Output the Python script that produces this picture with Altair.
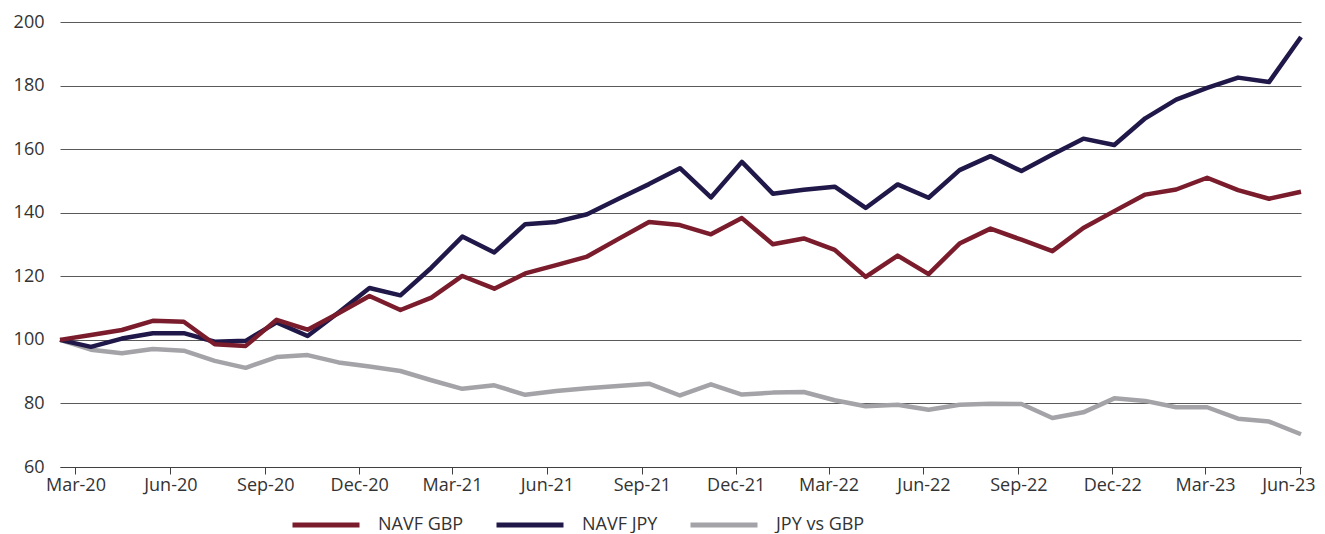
import altair as alt
import pandas as pd

# Series values (index 100 at start)
navf_gbp = [100, 101.5, 103.1, 106.0, 105.7, 98.6, 98.1, 106.3, 103.2, 108.4,
            113.8, 109.4, 113.3, 120.1, 116.1, 120.9, 123.5, 126.2, 131.7, 137.1,
            136.1, 133.2, 138.3, 130.1, 131.9, 128.3, 119.8, 126.5, 120.7, 130.3,
            135.0, 131.5, 127.9, 135.2, 140.5, 145.7, 147.3, 151.0, 147.1, 144.4,
            146.6]
navf_jpy = [100, 97.8, 100.4, 102.1, 102.1, 99.4, 99.7, 105.5, 101.2, 108.6,
            116.3, 114.0, 122.7, 132.5, 127.5, 136.4, 137.1, 139.5, 144.3, 149.0,
            154.0, 144.8, 156.0, 146.0, 147.2, 148.2, 141.5, 148.9, 144.7, 153.4,
            157.8, 153.1, 158.3, 163.3, 161.3, 169.7, 175.6, 179.3, 182.5, 181.1,
            195.3]
jpy_vs_gbp = [100, 96.9, 95.8, 97.1, 96.6, 93.4, 91.2, 94.6, 95.2, 92.9,
              91.6, 90.2, 87.3, 84.6, 85.7, 82.7, 83.9, 84.8, 85.5, 86.2,
              82.5, 86.0, 82.8, 83.4, 83.6, 81.0, 79.1, 79.6, 78.0, 79.6,
              79.9, 79.8, 75.4, 77.2, 81.6, 80.8, 78.8, 78.8, 75.2, 74.3,
              70.3]

series_names = ["NAVF GBP", "NAVF JPY", "JPY vs GBP"]
series_colors = ["#7a1c2c", "#1f1848", "#a4a4a8"]

# Observation dates (41 roughly monthly points)
dates = pd.date_range("2020-02-15", "2023-06-02", periods=41).strftime("%Y-%m-%d").tolist()

# Quarterly tick labels Mar-20 .. Jun-23
tick_months = [(2020, 3), (2020, 6), (2020, 9), (2020, 12),
               (2021, 3), (2021, 6), (2021, 9), (2021, 12),
               (2022, 3), (2022, 6), (2022, 9), (2022, 12),
               (2023, 3), (2023, 6)]

frames = []
for name, vals in zip(series_names, [navf_gbp, navf_jpy, jpy_vs_gbp]):
    frames.append(pd.DataFrame({"date": dates, "value": vals, "series": name}))
df = pd.concat(frames, ignore_index=True)

FONT = "Open Sans"
TEXT = "#333333"

x_enc = alt.X(
    "date:T",
    title=None,
    scale=alt.Scale(domain=[dates[0], dates[-1]], nice=False),
    axis=alt.Axis(
        values=[alt.DateTime(year=y, month=m, date=1) for y, m in tick_months],
        format="%b-%y",
        grid=False,
        domainColor="#404040",
        tickColor="#404040",
        tickSize=7,
        labelPadding=2,
        labelFontSize=18,
        labelColor=TEXT,
        labelFont=FONT,
        labelFlush=4,
        labelFlushOffset=15,
    ),
)
y_enc = alt.Y(
    "value:Q",
    title=None,
    scale=alt.Scale(domain=[60, 200], nice=False, zero=False),
    axis=alt.Axis(
        values=[60, 80, 100, 120, 140, 160, 180, 200],
        grid=True,
        gridColor="#5a5a5a",
        gridWidth=1,
        domain=False,
        ticks=False,
        labelPadding=16,
        labelFontSize=18,
        labelColor=TEXT,
        labelFont=FONT,
    ),
)
color_enc = alt.Color(
    "series:N",
    scale=alt.Scale(domain=series_names, range=series_colors),
    legend=alt.Legend(
        title=None,
        orient="none",
        direction="horizontal",
        legendX=230,
        legendY=467,
        symbolType="stroke",
        symbolSize=4489,
        symbolStrokeWidth=5,
        labelFontSize=18,
        labelFont=FONT,
        labelColor=TEXT,
        labelOffset=16,
        columnPadding=22,
        padding=0,
    ),
)


def layer_for(name):
    return (
        alt.Chart(df)
        .transform_filter(alt.datum.series == name)
        .mark_line(strokeWidth=4.5, strokeJoin="round", strokeCap="butt")
        .encode(x=x_enc, y=y_enc, color=color_enc)
    )


# gray at bottom, red on top
chart = (
    alt.layer(layer_for("JPY vs GBP"), layer_for("NAVF JPY"), layer_for("NAVF GBP"))
    .properties(
        width=1241,
        height=445,
        autosize=alt.AutoSizeParams(type="none"),
        padding={"left": 52, "top": 14, "right": 16, "bottom": 66},
    )
    .configure_view(stroke=None)
    .configure_legend(symbolStrokeWidth=5)
)

chart.save("out.html", embed_options={"renderer": "svg", "actions": False})
